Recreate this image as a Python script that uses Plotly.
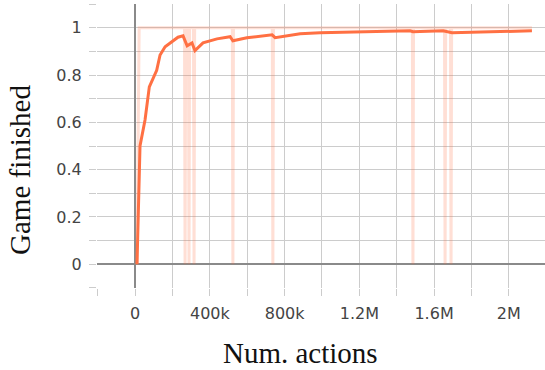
import plotly.graph_objects as go

# Smoothed series (Num. actions, Game finished)
smooth_x = [9600, 25700, 52500, 75500, 115000, 133000, 160000, 186000, 213000, 229000,
            256000, 278000, 304000, 320000, 363000, 438000, 508000, 523000, 598000,
            733000, 749000, 883000, 990000, 1200000, 1471000, 1487000, 1648000, 1696000,
            1900000, 2124000]
smooth_y = [0.0, 0.50, 0.61, 0.75, 0.82, 0.885, 0.92, 0.935, 0.95, 0.96,
            0.966, 0.924, 0.936, 0.903, 0.936, 0.953, 0.962, 0.945, 0.958,
            0.97, 0.958, 0.975, 0.979, 0.982, 0.987, 0.983, 0.987, 0.979,
            0.983, 0.987]

# Raw series (faint): mostly 1 with occasional drops to 0
raw_x = [9600, 21000,
         264000, 267000, 270000,
         285000, 288000, 291000,
         312000, 315000, 318000,
         520000, 523000, 526000,
         734000, 737000, 740000,
         1484000, 1487000, 1490000,
         1656000, 1659000, 1662000,
         1688000, 1691000, 1694000,
         2124000]
raw_y = [0, 1,
         1, 0, 1,
         1, 0, 1,
         1, 0, 1,
         1, 0, 1,
         1, 0, 1,
         1, 0, 1,
         1, 0, 1,
         1, 0, 1,
         1]

color = "#ff7043"
grid = "#cccccc"

fig = go.Figure()
fig.add_trace(go.Scatter(x=raw_x, y=raw_y, mode="lines",
                         line=dict(color=color, width=3), opacity=0.22,
                         hoverinfo="skip", showlegend=False))
fig.add_trace(go.Scatter(x=smooth_x, y=smooth_y, mode="lines",
                         line=dict(color=color, width=3),
                         hoverinfo="skip", showlegend=False))

tickfont = dict(family="DejaVu Sans", size=16, color="#444444")

fig.update_xaxes(range=[-204600, 2194000], tick0=0, dtick=400000, tickformat="~s",
                 showgrid=True, gridcolor=grid, gridwidth=1,
                 zeroline=True, zerolinecolor="#8a8a8a", zerolinewidth=2,
                 ticks="outside", ticklen=7, tickcolor=grid, showline=False,
                 tickfont=tickfont, ticklabelstandoff=4,
                 minor=dict(dtick=200000, tick0=0, ticks="outside", ticklen=7,
                            tickcolor=grid, showgrid=True, gridcolor=grid, gridwidth=1))
fig.update_yaxes(range=[-0.1005, 1.1005], tick0=0, dtick=0.2,
                 showgrid=True, gridcolor=grid, gridwidth=1,
                 zeroline=True, zerolinecolor="#8a8a8a", zerolinewidth=2,
                 ticks="outside", ticklen=7, tickcolor=grid, showline=False,
                 tickfont=tickfont, ticklabelstandoff=4,
                 minor=dict(dtick=0.1, tick0=0, ticks="outside", ticklen=7,
                            tickcolor=grid, showgrid=True, gridcolor=grid, gridwidth=1))

titlefont = dict(family="Liberation Serif", size=29, color="#111111")
fig.add_annotation(text="Num. actions", xref="paper", yref="paper",
                   x=0.455, y=-0.229, xanchor="center", yanchor="middle",
                   showarrow=False, font=titlefont)
fig.add_annotation(text="Game finished", xref="paper", yref="paper",
                   x=-0.172, y=0.4155, xanchor="center", yanchor="middle",
                   textangle=-90, showarrow=False, font=titlefont)

fig.update_layout(width=545, height=370, margin=dict(l=97, r=0, t=4, b=82),
                  plot_bgcolor="white", paper_bgcolor="white")

fig.write_html("out.html", config={"displayModeBar": False},
               post_script="document.body.style.margin='0px';")
